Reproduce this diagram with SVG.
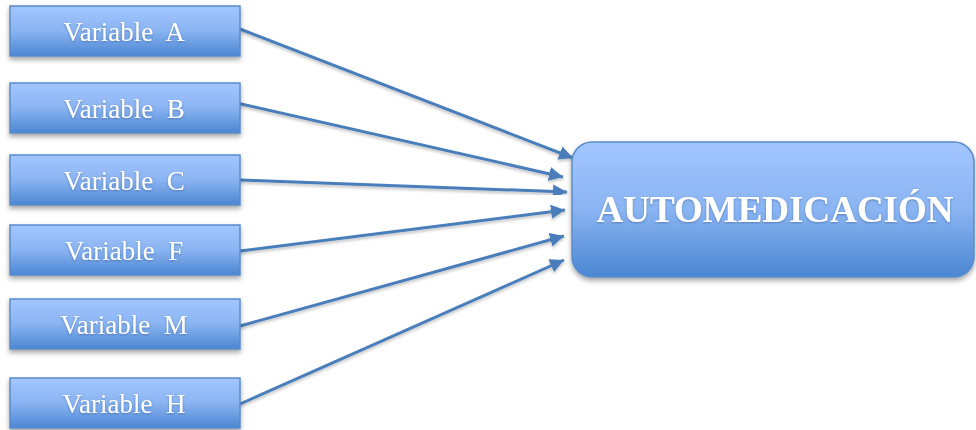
<svg xmlns="http://www.w3.org/2000/svg" width="976" height="430" viewBox="0 0 976 430">
<defs>
<style>
.box{fill:url(#g);stroke:#5a8ccc;stroke-width:1.5;filter:url(#sh)}
.lbl{font-family:"Liberation Serif","Times New Roman",serif;font-size:27px;fill:#ffffff;text-anchor:middle;filter:url(#tsh)}
.big{font-family:"Liberation Serif","Times New Roman",serif;font-size:37px;font-weight:bold;fill:#ffffff;text-anchor:middle;filter:url(#tsh)}
.con{stroke:#4a7ebb;stroke-width:3;fill:none;marker-end:url(#ah);filter:url(#lsh)}
</style>
<linearGradient id="g" x1="0" y1="0" x2="0" y2="1">
<stop offset="0" stop-color="#a3c6ff"/>
<stop offset="0.5" stop-color="#8ab4f2"/>
<stop offset="1" stop-color="#4b86d2"/>
</linearGradient>
<filter id="sh" x="-10%" y="-20%" width="120%" height="150%">
<feDropShadow dx="0" dy="3" stdDeviation="2.5" flood-color="#000" flood-opacity="0.35"/>
</filter>
<filter id="lsh" x="-10%" y="-10%" width="120%" height="130%">
<feDropShadow dx="0" dy="2" stdDeviation="1.5" flood-color="#000" flood-opacity="0.25"/>
</filter>
<filter id="tsh" x="-10%" y="-20%" width="120%" height="150%">
<feDropShadow dx="0" dy="1" stdDeviation="0.8" flood-color="#2a4f80" flood-opacity="0.5"/>
</filter>
<marker id="ah" markerUnits="userSpaceOnUse" markerWidth="16" markerHeight="14" refX="14" refY="7" orient="auto">
<path d="M0,0 L14,7 L0,14 Z" fill="#4a7ebb"/>
</marker>
</defs>
<g id="connectors">
<line class="con" x1="240" y1="29" x2="573" y2="158"/>
<line class="con" x1="237" y1="103" x2="563" y2="177"/>
<line class="con" x1="240" y1="180" x2="567" y2="192"/>
<line class="con" x1="240" y1="251" x2="565" y2="210"/>
<line class="con" x1="240" y1="326" x2="564" y2="236"/>
<line class="con" x1="240" y1="404" x2="564" y2="260"/>
</g>
<g id="nodeA"><rect class="box" x="10" y="6" width="230" height="50"/><text class="lbl" x="124" y="41" xml:space="preserve">Variable  A</text></g>
<g id="nodeB"><rect class="box" x="10" y="83" width="230" height="50"/><text class="lbl" x="124" y="118" xml:space="preserve">Variable  B</text></g>
<g id="nodeC"><rect class="box" x="10" y="155" width="230" height="50"/><text class="lbl" x="124" y="190" xml:space="preserve">Variable  C</text></g>
<g id="nodeF"><rect class="box" x="10" y="225" width="230" height="50"/><text class="lbl" x="124" y="260" xml:space="preserve">Variable  F</text></g>
<g id="nodeM"><rect class="box" x="10" y="299" width="230" height="50"/><text class="lbl" x="124" y="334" xml:space="preserve">Variable  M</text></g>
<g id="nodeH"><rect class="box" x="10" y="378" width="230" height="50"/><text class="lbl" x="124" y="413" xml:space="preserve">Variable  H</text></g>
<g id="nodeAuto"><rect class="box" x="572" y="142" width="402" height="135" rx="20" ry="20"/><text class="big" x="775" y="222">AUTOMEDICACIÓN</text></g>
</svg>
